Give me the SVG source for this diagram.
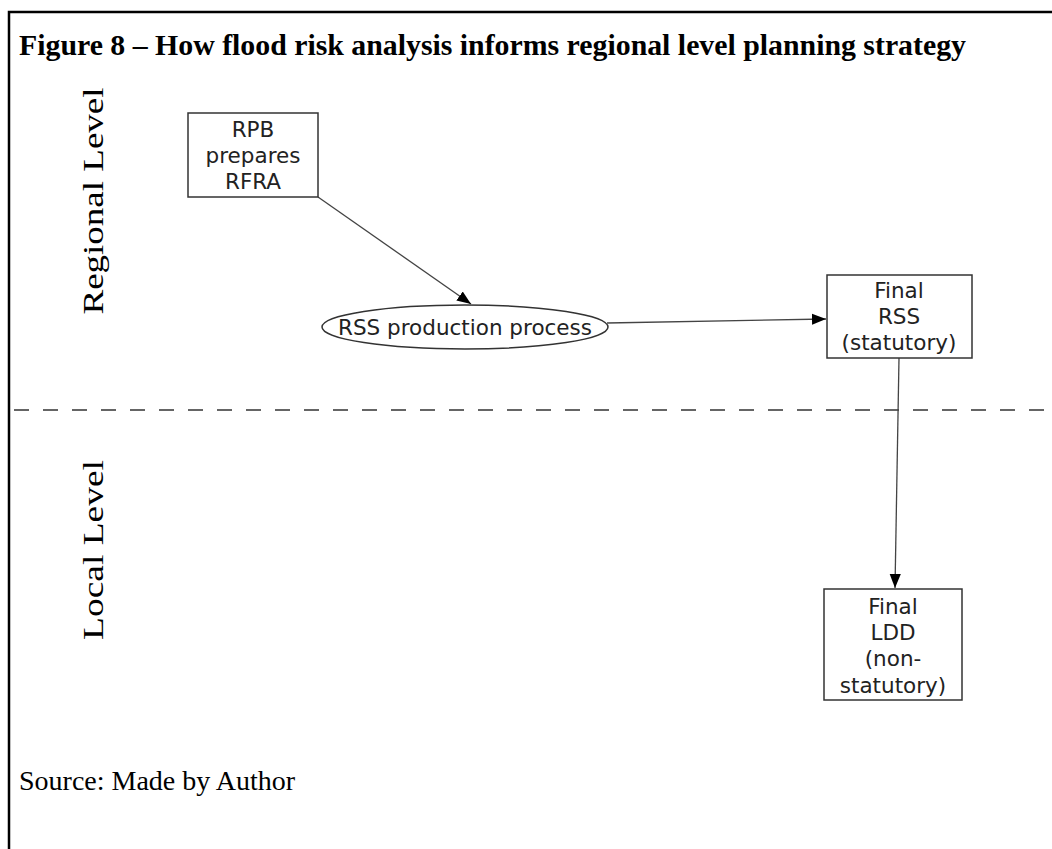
<svg xmlns="http://www.w3.org/2000/svg" width="1052" height="849" viewBox="0 0 1052 849">
<defs>
<style>
.serif{font-family:"Liberation Serif","Times New Roman",serif;fill:#000}
.sans{font-family:"DejaVu Sans","Liberation Sans",sans-serif;font-size:21.5px;fill:#222;text-anchor:middle}
.box{fill:#fff;stroke:#333;stroke-width:1.5}
.edge{stroke:#444;stroke-width:1.3;fill:none;marker-end:url(#ah)}
</style>
<marker id="ah" viewBox="0 0 10 10" refX="10" refY="5" markerWidth="14" markerHeight="14" markerUnits="userSpaceOnUse" orient="auto">
<path d="M0,1 L10,5 L0,9 Z" fill="#000"/>
</marker>
</defs>
<rect width="1052" height="849" fill="#fff"/>
<path d="M9,849 V12 H1052" fill="none" stroke="#000" stroke-width="2.5"/>
<text class="serif" x="19" y="55" font-size="29" font-weight="bold" textLength="947" lengthAdjust="spacingAndGlyphs">Figure 8 – How flood risk analysis informs regional level planning strategy</text>
<text class="serif" font-size="30" text-anchor="middle" textLength="227" lengthAdjust="spacingAndGlyphs" transform="translate(103,201) rotate(-90)">Regional Level</text>
<text class="serif" font-size="30" text-anchor="middle" textLength="180" lengthAdjust="spacingAndGlyphs" transform="translate(103,550) rotate(-90)">Local Level</text>
<line x1="14" y1="410" x2="1052" y2="410" stroke="#333" stroke-width="1.5" stroke-dasharray="15 14"/>
<g id="connectors">
<line class="edge" x1="318" y1="197" x2="471" y2="304"/>
<line class="edge" x1="607" y1="323" x2="826" y2="319"/>
<line class="edge" x1="899" y1="358" x2="895" y2="588"/>
</g>
<g id="rpb">
<rect class="box" x="188" y="113" width="130" height="84"/>
<text class="sans" x="253" y="137">RPB</text>
<text class="sans" x="253" y="163">prepares</text>
<text class="sans" x="253" y="189">RFRA</text>
</g>
<g id="rss-process">
<ellipse class="box" cx="465" cy="327" rx="143" ry="22"/>
<text class="sans" x="465" y="335" font-size="22.5">RSS production process</text>
</g>
<g id="final-rss">
<rect class="box" x="827" y="275" width="145" height="83"/>
<text class="sans" x="899" y="298">Final</text>
<text class="sans" x="899" y="324">RSS</text>
<text class="sans" x="899" y="350">(statutory)</text>
</g>
<g id="final-ldd">
<rect class="box" x="824" y="589" width="138" height="111"/>
<text class="sans" x="893" y="614">Final</text>
<text class="sans" x="893" y="640">LDD</text>
<text class="sans" x="893" y="666">(non-</text>
<text class="sans" x="893" y="693">statutory)</text>
</g>
<text class="serif" x="19" y="790" font-size="28">Source: Made by Author</text>
</svg>
